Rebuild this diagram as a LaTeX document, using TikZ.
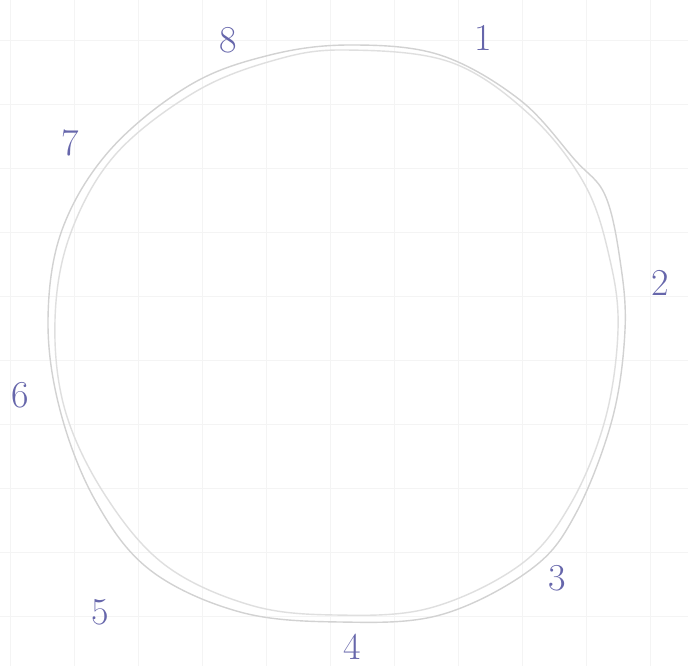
\documentclass[tikz,border=0pt]{standalone}
\begin{document}
\begin{tikzpicture}[x=1pt,y=-1pt,
  lbl/.style={text=blue!45!black!60!white, font=\fontsize{38}{38}\selectfont, inner sep=0pt},
  ring/.style={draw=gray!35, line width=1.4pt},
  gridline/.style={draw=gray!9, line width=0.8pt}]
\useasboundingbox (0,0) rectangle (688,666);
\fill[white] (0,0) rectangle (688,666);
\foreach \gx in {10,74,...,688} \draw[gridline] (\gx,0) -- (\gx,666);
\foreach \gy in {40,104,...,666} \draw[gridline] (0,\gy) -- (688,\gy);
\draw[ring] plot[smooth cycle, tension=0.6] coordinates {
 (350,45) (440,55) (520,100) (575,160) (605,195) (620,260) (625,330) (612,420)
 (575,515) (530,570) (440,615) (340,622) (240,612) (150,570) (95,500) (60,410)
 (48,320) (62,230) (110,150) (190,85) (270,55)};
\draw[ring, gray!25] plot[smooth cycle, tension=0.6] coordinates {
 (345,50) (450,62) (530,115) (585,185) (610,260) (618,330) (605,420)
 (570,505) (520,565) (430,608) (335,615) (250,605) (165,565) (105,495) (65,410)
 (55,320) (70,235) (115,155) (195,92) (275,60)};
\node[lbl] (n1) at (483,38) {1};
\node[lbl] (n2) at (660,283) {2};
\node[lbl] (n3) at (557,578) {3};
\node[lbl] (n4) at (352,647) {4};
\node[lbl] (n5) at (100,612) {5};
\node[lbl] (n6) at (20,395) {6};
\node[lbl] (n7) at (70,143) {7};
\node[lbl] (n8) at (228,40) {8};
\end{tikzpicture}
\end{document}
